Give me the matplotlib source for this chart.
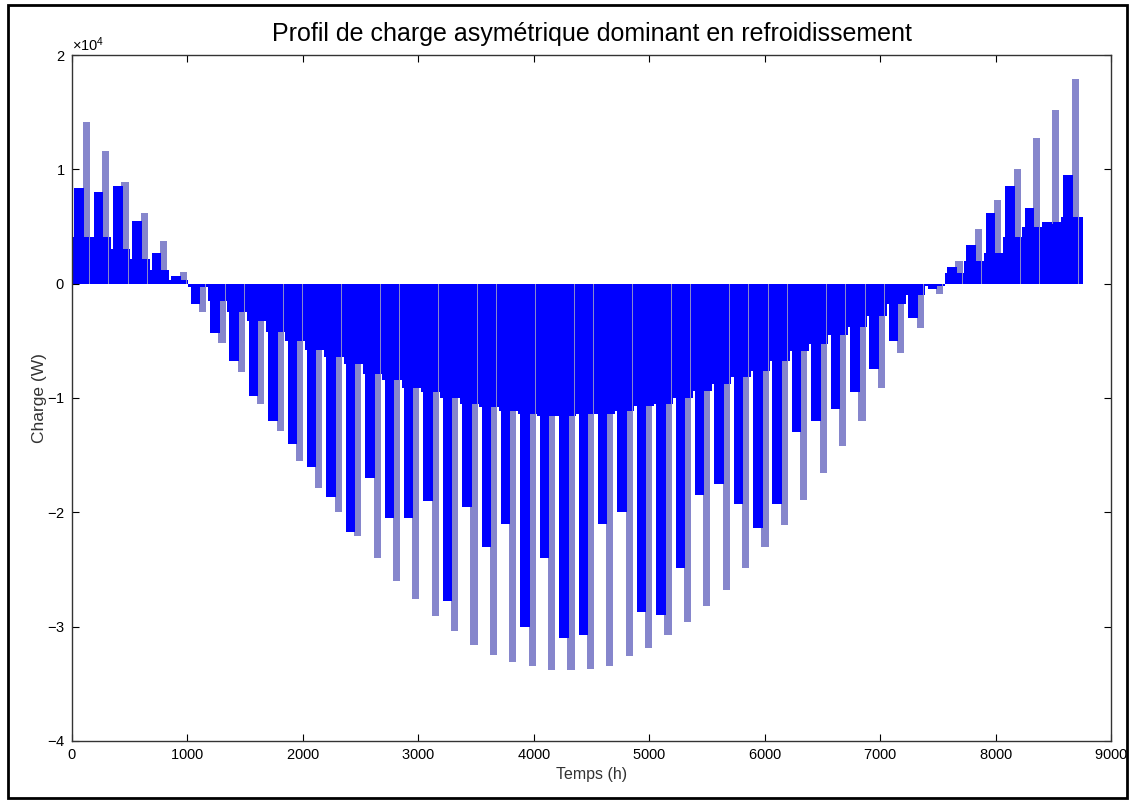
import matplotlib.pyplot as plt
from matplotlib.patches import Rectangle
import numpy as np

# profil horaire sur 8760 h, lu semaine par semaine sur la figure (W)
# pointe : extremite des pics clairs, coeur : extremite des colonnes bleu fonce,
# plancher : niveau ou commencent les creux blancs entre les semaines
debut = np.arange(0, 8760, 168)[:52]

pointe = [14100, 11600, 8900, 6200, 3700, 1000, -2500, -5200, -7700, -10500,
          -12900, -15500, -17900, -20000, -22100, -24000, -26000, -27600, -29100, -30400,
          -31600, -32500, -33100, -33400, -33800, -33800, -33700, -33400, -32600, -31900,
          -30700, -29600, -28200, -26800, -24900, -23000, -21100, -18900, -16600, -14200,
          -12000, -9100, -6100, -3900, -900, 2000, 4800, 7300, 10000, 12700,
          15200, 17900]

coeur = [8400, 8000, 8500, 5500, 2700, 700, -1800, -4300, -6800, -9800,
         -12000, -14000, -16000, -18700, -21700, -17000, -20500, -20500, -19000, -27800,
         -19500, -23000, -21000, -30000, -24000, -31000, -30700, -21000, -20000, -28700,
         -29000, -24900, -18500, -17500, -19300, -21400, -19300, -13000, -12000, -11000,
         -9500, -7500, -5000, -3000, -500, 1500, 3400, 6200, 8500, 6600,
         5200, 9500]

plancher = [4100, 4100, 3000, 2200, 1200, 300, -300, -1500, -2500, -3300,
            -4200, -5000, -5800, -6400, -7000, -7900, -8400, -9100, -9500, -10000,
            -10500, -10800, -11100, -11400, -11600, -11600, -11400, -11400, -11100, -10700,
            -10500, -10000, -9400, -8800, -8200, -7600, -6800, -5900, -5300, -4500,
            -3800, -2800, -1800, -1000, -200, 900, 2000, 2700, 4100, 5000,
            5400, 5800]

bleu = '#0000ff'
lavande = '#8686cc'

plt.rcParams['font.family'] = ['Liberation Sans', 'DejaVu Sans']
plt.rcParams['mathtext.fontset'] = 'custom'
plt.rcParams['mathtext.rm'] = 'Liberation Sans'
plt.rcParams['axes.formatter.use_mathtext'] = True
plt.rcParams['axes.unicode_minus'] = False

fig = plt.figure(figsize=(11.39, 8.02), dpi=100)
ax = fig.add_axes([0.0632, 0.0761, 0.9122, 0.8553])

largeur = np.append(debut[1:], 8760) - debut
# bande continue du haut, puis queues claires, puis colonnes foncees
ax.bar(debut, plancher, width=largeur, align='edge', color=bleu, linewidth=0)
ax.bar(debut + 92, pointe, width=62, align='edge', color=lavande, linewidth=0)
ax.bar(debut + 20, coeur, width=82, align='edge', color=bleu, linewidth=0)
ax.bar(debut + 100, plancher, width=48, align='edge', color=bleu, linewidth=0)

ax.set_xlim(0, 9000)
ax.set_ylim(-40000, 20000)
ax.set_xticks(range(0, 9001, 1000))
ax.set_yticks(range(-40000, 20001, 10000))
ax.ticklabel_format(axis='y', style='sci', scilimits=(4, 4))
ax.yaxis.get_offset_text().set_fontsize(10.5)
ax.tick_params(direction='in', top=True, right=True, length=5, width=0.8,
               labelsize=10.5, pad=5)
for s in ax.spines.values():
    s.set_linewidth(1.0)
    s.set_color('#333333')

ax.set_title('Profil de charge asymétrique dominant en refroidissement',
             fontsize=18, pad=10)
ax.set_xlabel('Temps (h)', fontsize=11.5, labelpad=4, color='#333333')
ax.set_ylabel('Charge (W)', fontsize=12.5, labelpad=0, color='#333333')

fig.add_artist(Rectangle((0.007, 0.005), 0.9825, 0.989, transform=fig.transFigure,
                         fill=False, lw=2, ec='black'))

fig.savefig('out.png', dpi=100)
